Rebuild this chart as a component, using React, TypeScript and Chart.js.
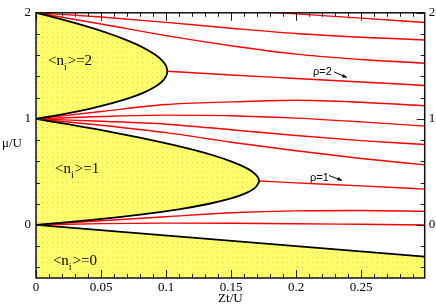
import React, { useEffect, useRef } from 'react';
import { Chart, registerables } from 'chart.js';
Chart.register(...registerables);

// ---- Mott lobe boundaries (x = Zt/U, y = mu/U) ----
const lobe0X = [0, 0.299];
const lobe0Mu = [0, -0.299];

const lobe1Mu = [0, 0.05, 0.1, 0.15, 0.2, 0.25, 0.3, 0.35, 0.4, 0.4142, 0.45, 0.5, 0.55, 0.6, 0.65, 0.7, 0.75, 0.8, 0.85, 0.9, 0.95, 1];
const lobe1X = [0, 0.0452, 0.0818, 0.1109, 0.1333, 0.15, 0.1615, 0.1685, 0.1714, 0.1716, 0.1707, 0.1667, 0.1597, 0.15, 0.1379, 0.1235, 0.1071, 0.0889, 0.0689, 0.0474, 0.0244, 0];

const lobe2Mu = [1, 1.05, 1.1, 1.15, 1.2, 1.25, 1.3, 1.35, 1.4, 1.449, 1.5, 1.55, 1.6, 1.65, 1.7, 1.75, 1.8, 1.85, 1.9, 1.95, 2];
const lobe2X = [0, 0.0232, 0.0429, 0.0593, 0.0727, 0.0833, 0.0913, 0.0968, 0.1, 0.101, 0.1, 0.0971, 0.0923, 0.0858, 0.0778, 0.0682, 0.0571, 0.0447, 0.031, 0.0161, 0];

// ---- constant density lines ----
const fanX = [0, 0.05, 0.1, 0.15, 0.2, 0.25, 0.299];
const fan2aMu = [2, 1.96, 1.91, 1.855, 1.805, 1.77, 1.744];
const fan2bMu = [2, 1.895, 1.785, 1.69, 1.61, 1.56, 1.525];
const fan1aMu = [1, 1.07, 1.135, 1.16, 1.176, 1.157, 1.123];
const fan1bMu = [1, 1.022, 1.035, 1.03, 1.007, 0.972, 0.932];
const fan1cMu = [1, 0.978, 0.95, 0.898, 0.843, 0.795, 0.758];
const fan1dMu = [1, 0.94, 0.87, 0.78, 0.7, 0.627, 0.566];
const fan0aMu = [0, 0.04, 0.078, 0.115, 0.133, 0.136, 0.128];
const fan0bMu = [0, 0.013, 0.017, 0.016, 0.012, 0.006, 0.0];
const topLineX = [0.16, 0.2, 0.25, 0.299];
const topLineMu = [2.02, 1.99, 1.95, 1.909];
const rho2X = [0.101, 0.15, 0.2, 0.25, 0.299];
const rho2Mu = [1.449, 1.413, 1.381, 1.348, 1.315];
const rho1X = [0.1716, 0.2, 0.25, 0.299];
const rho1Mu = [0.414, 0.397, 0.368, 0.338];

// ---- ticks ----
const xTickValues = [0, 0.05, 0.1, 0.15, 0.2, 0.25];
const xTickLabels = ['0', '0.05', '0.1', '0.15', '0.2', '0.25'];
const yTickValues = [0, 1, 2];
const yTickLabels = ['0', '1', '2'];

// ---- annotations ----
const lobeLabelValues = ['2', '1', '0'];
const lobeLabelPos = [[0.0092, 1.543], [0.0146, 0.523], [0.013, -0.344]];
const rhoLabels = ['ρ=2', 'ρ=1'];
const rhoLabelPos = [[0.2131, 1.438], [0.2108, 0.4475]];
const rhoArrows = [[0.2292, 1.443, 0.2392, 1.39], [0.2254, 0.466, 0.2354, 0.42]];

const pts = (xs: number[], ys: number[]) => xs.map((x, i) => ({ x, y: ys[i] }));
const pts2 = (xs: number[], ys: number[]) => ys.map((y, i) => ({ x: xs[i], y }));

const labelFor = (v: number, vals: number[], labs: string[]) => {
  for (let i = 0; i < vals.length; i++) if (Math.abs(vals[i] - v) < 1e-6) return labs[i];
  return '';
};

const SERIF = '"Liberation Serif", "Times New Roman", serif';

export default function App() {
  const ref = useRef<HTMLCanvasElement>(null);
  useEffect(() => {
    const canvas = ref.current!;
    const c2d = canvas.getContext('2d')!;
    const pc = document.createElement('canvas');
    pc.width = 5; pc.height = 5;
    const p = pc.getContext('2d')!;
    p.fillStyle = '#ffff6e'; p.fillRect(0, 0, 5, 5);
    p.fillStyle = '#dcdc30'; p.fillRect(2, 2, 1, 1);
    const pattern = c2d.createPattern(pc, 'repeat')!;

    const black = (data: any[], extra: any = {}) => ({
      data, showLine: true, pointRadius: 0, borderColor: '#000', borderWidth: 1.8,
      backgroundColor: pattern, tension: 0.3, ...extra,
    });
    const red = (data: any[]) => ({
      data, showLine: true, pointRadius: 0, borderColor: '#ff0000', borderWidth: 1.4,
      fill: false, cubicInterpolationMode: 'monotone',
    });

    const framePlugin = {
      id: 'frame',
      afterDatasetsDraw(chart: any) {
        const { ctx, chartArea: { left, right, top, bottom } } = chart;
        const xs = chart.scales.x, ys = chart.scales.y;
        ctx.save();
        ctx.strokeStyle = '#222';
        ctx.lineWidth = 1;
        ctx.beginPath();
        xs.ticks.forEach((t: any) => {
          const px = Math.round(xs.getPixelForValue(t.value)) + 0.5;
          const len = labelFor(t.value, xTickValues, xTickLabels) !== '' ? 8 : 4;
          ctx.moveTo(px, bottom); ctx.lineTo(px, bottom - len);
          ctx.moveTo(px, top); ctx.lineTo(px, top + len);
        });
        ys.ticks.forEach((t: any) => {
          const py = Math.round(ys.getPixelForValue(t.value)) + 0.5;
          const len = labelFor(t.value, yTickValues, yTickLabels) !== '' ? 8 : 4;
          ctx.moveTo(left, py); ctx.lineTo(left + len, py);
          ctx.moveTo(right, py); ctx.lineTo(right - len, py);
        });
        ctx.stroke();
        ctx.lineWidth = 1.5;
        ctx.strokeStyle = '#111';
        ctx.strokeRect(left, top, right - left, bottom - top);
        ctx.restore();
      },
      afterDraw(chart: any) {
        const { ctx } = chart;
        const xs = chart.scales.x, ys = chart.scales.y;
        ctx.save();
        ctx.fillStyle = '#000';
        ctx.textBaseline = 'middle';
        ctx.font = `13px ${SERIF}`;
        ctx.textAlign = 'center';
        ctx.fillText('μ/U', 12, 144);
        ctx.fillText('Zt/U', (chart.chartArea.left + chart.chartArea.right) / 2, 299);
        ctx.textAlign = 'left';
        lobeLabelValues.forEach((v, i) => {
          const px = xs.getPixelForValue(lobeLabelPos[i][0]);
          const py = ys.getPixelForValue(lobeLabelPos[i][1]);
          ctx.font = `15px ${SERIF}`;
          ctx.fillText('<n', px, py);
          const w1 = ctx.measureText('<n').width;
          ctx.font = `10px ${SERIF}`;
          ctx.fillText('i', px + w1, py + 6);
          const w2 = ctx.measureText('i').width;
          ctx.font = `15px ${SERIF}`;
          ctx.fillText('>=' + v, px + w1 + w2 + 1, py);
        });
        ctx.font = '11px "Liberation Sans", Arial, sans-serif';
        rhoLabels.forEach((t, i) => {
          ctx.fillText(t, xs.getPixelForValue(rhoLabelPos[i][0]), ys.getPixelForValue(rhoLabelPos[i][1]));
          const [ax0, ay0, ax1, ay1] = rhoArrows[i];
          const x0 = xs.getPixelForValue(ax0), y0 = ys.getPixelForValue(ay0);
          const x1 = xs.getPixelForValue(ax1), y1 = ys.getPixelForValue(ay1);
          ctx.strokeStyle = '#000';
          ctx.lineWidth = 1;
          ctx.beginPath(); ctx.moveTo(x0, y0); ctx.lineTo(x1, y1); ctx.stroke();
          const ang = Math.atan2(y1 - y0, x1 - x0);
          ctx.beginPath();
          ctx.moveTo(x1, y1);
          ctx.lineTo(x1 - 5 * Math.cos(ang - 0.4), y1 - 5 * Math.sin(ang - 0.4));
          ctx.lineTo(x1 - 5 * Math.cos(ang + 0.4), y1 - 5 * Math.sin(ang + 0.4));
          ctx.closePath(); ctx.fill();
        });
        ctx.restore();
      },
    };

    const tickFont = { family: SERIF, size: 13 };
    const chart = new Chart(canvas, {
      type: 'scatter',
      data: {
        datasets: [
          black(pts(lobe0X, lobe0Mu), { fill: 'start', tension: 0 }),
          black(pts2(lobe1X, lobe1Mu), { fill: 'shape' }),
          black(pts2(lobe2X, lobe2Mu), { fill: 'shape' }),
          red(pts(fanX, fan2aMu)),
          red(pts(fanX, fan2bMu)),
          red(pts(topLineX, topLineMu)),
          red(pts(rho2X, rho2Mu)),
          red(pts(fanX, fan1aMu)),
          red(pts(fanX, fan1bMu)),
          red(pts(fanX, fan1cMu)),
          red(pts(fanX, fan1dMu)),
          red(pts(rho1X, rho1Mu)),
          red(pts(fanX, fan0aMu)),
          red(pts(fanX, fan0bMu)),
        ] as any,
      },
      options: {
        animation: false,
        responsive: false,
        devicePixelRatio: 1,
        events: [],
        layout: { padding: { top: 5, left: 0, right: 0, bottom: 0 } },
        plugins: {
          legend: { display: false },
          tooltip: { enabled: false },
          filler: { drawTime: 'beforeDatasetsDraw' } as any,
        },
        scales: {
          x: {
            type: 'linear', min: 0, max: 0.299,
            afterFit: (s: any) => { s.height = 28; },
            grid: { display: false, drawTicks: false },
            border: { display: false },
            ticks: {
              stepSize: 0.01, includeBounds: false, autoSkip: false, maxRotation: 0, minRotation: 0,
              maxTicksLimit: 1000, padding: 2, font: tickFont, color: '#000',
              callback: (v: any) => labelFor(Number(v), xTickValues, xTickLabels),
            },
          },
          y: {
            type: 'linear', position: 'left', min: -0.5, max: 2,
            afterFit: (s: any) => { s.width = 36; },
            grid: { display: false, drawTicks: false },
            border: { display: false },
            ticks: {
              stepSize: 0.2, includeBounds: false, autoSkip: false, maxTicksLimit: 1000,
              padding: 5, font: tickFont, color: '#000',
              callback: (v: any) => labelFor(Number(v), yTickValues, yTickLabels),
            },
          },
          y2: {
            type: 'linear', position: 'right', min: -0.5, max: 2,
            afterFit: (s: any) => { s.width = 11.3; },
            grid: { display: false, drawTicks: false },
            border: { display: false },
            ticks: {
              stepSize: 0.2, includeBounds: false, autoSkip: false, maxTicksLimit: 1000,
              padding: 4, font: tickFont, color: '#000',
              callback: (v: any) => labelFor(Number(v), yTickValues, yTickLabels),
            },
          },
        } as any,
      },
      plugins: [framePlugin],
    });
    return () => chart.destroy();
  }, []);

  return (
    <div style={{ position: 'fixed', left: 0, top: 0, width: 436, height: 306, background: '#fff' }}>
      <canvas ref={ref} width={436} height={306} style={{ display: 'block', width: 436, height: 306 }} />
    </div>
  );
}
